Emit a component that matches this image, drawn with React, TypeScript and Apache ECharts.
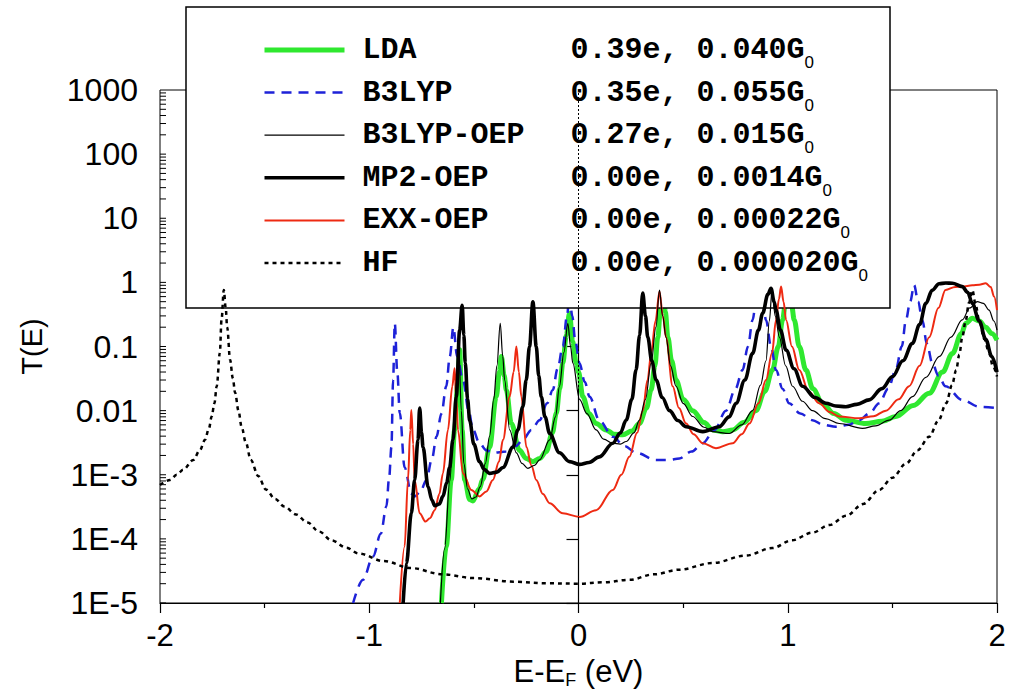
import React, { useEffect, useRef } from "react";
import * as echarts from "echarts";

type Pt = [number, number];

const seriesNames = ["LDA", "B3LYP", "B3LYP-OEP", "MP2-OEP", "EXX-OEP", "HF"];
const chargeLabels = ["0.39e", "0.35e", "0.27e", "0.00e", "0.00e", "0.00e"];
const conductanceLabels = ["0.040", "0.055", "0.015", "0.0014", "0.00022", "0.000020"];
const xTicks = [-2, -1, 0, 1, 2];
const yTickLabels = ["1E-5", "1E-4", "1E-3", "0.01", "0.1", "1", "10", "100", "1000"];

const ldaData: Pt[] = [
  [-0.655, 1e-5], [-0.632, 7.6e-5], [-0.608, 8.3e-4], [-0.592, 5e-3], [-0.576, 0.03], [-0.568, 0.089],
  [-0.556, 5e-3], [-0.544, 8.3e-4], [-0.52, 4.1e-4], [-0.505, 3.9e-4], [-0.475, 6e-4], [-0.457, 8.5e-4],
  [-0.425, 2.7e-3], [-0.393, 0.0165], [-0.378, 0.04], [-0.369, 0.07], [-0.355, 0.035], [-0.345, 0.021],
  [-0.321, 6.3e-3], [-0.282, 2.4e-3], [-0.25, 1.8e-3], [-0.218, 1.6e-3], [-0.185, 1.8e-3], [-0.154, 2.3e-3],
  [-0.125, 4.5e-3], [-0.106, 9.1e-3], [-0.09, 0.022], [-0.075, 0.055], [-0.058, 0.15], [-0.043, 0.33],
  [-0.028, 0.12], [-0.011, 0.055], [0, 0.04], [0.021, 0.0165], [0.05, 0.009], [0.084, 6.3e-3], [0.132, 5e-3],
  [0.17, 4.3e-3], [0.212, 4.2e-3], [0.255, 4.8e-3], [0.291, 6.3e-3], [0.325, 0.011], [0.347, 0.021],
  [0.365, 0.05], [0.379, 0.14], [0.392, 0.4], [0.403, 0.86], [0.415, 0.35], [0.427, 0.14], [0.445, 0.06],
  [0.466, 0.03], [0.5, 0.015], [0.546, 0.01], [0.6, 6.5e-3], [0.641, 5e-3], [0.69, 4.7e-3], [0.737, 5e-3],
  [0.79, 6.5e-3], [0.848, 0.01], [0.89, 0.02], [0.927, 0.043], [0.955, 0.1], [0.975, 0.26], [0.99, 0.5],
  [1.004, 0.81], [1.018, 0.45], [1.031, 0.26], [1.055, 0.1], [1.087, 0.043], [1.12, 0.022], [1.166, 0.013],
  [1.22, 9e-3], [1.278, 7.1e-3], [1.373, 6.3e-3], [1.45, 6.8e-3], [1.516, 8.1e-3], [1.6, 0.012],
  [1.676, 0.0186], [1.74, 0.04], [1.787, 0.078], [1.83, 0.16], [1.851, 0.23], [1.882, 0.275], [1.915, 0.25],
  [1.946, 0.2], [1.975, 0.16], [2.0, 0.126],
];

const b3lypData: Pt[] = [
  [-1.077, 1e-5], [-1.03, 2.3e-5], [-0.982, 5.3e-5], [-0.945, 1.2e-4], [-0.918, 3.2e-4], [-0.905, 9e-4],
  [-0.894, 2.7e-3], [-0.886, 0.03], [-0.878, 0.23], [-0.866, 0.04], [-0.854, 9.1e-3], [-0.831, 1.3e-3],
  [-0.799, 5.1e-4], [-0.783, 4.6e-4], [-0.755, 5.5e-4], [-0.727, 8.3e-4], [-0.7, 1.8e-3], [-0.679, 3.9e-3],
  [-0.655, 0.009], [-0.632, 0.024], [-0.615, 0.07], [-0.598, 0.2], [-0.58, 0.07], [-0.552, 0.03],
  [-0.525, 0.01], [-0.504, 5e-3], [-0.473, 3.1e-3], [-0.44, 2.4e-3], [-0.409, 2.2e-3], [-0.345, 2.3e-3],
  [-0.3, 2.8e-3], [-0.266, 3.5e-3], [-0.225, 5e-3], [-0.186, 7.1e-3], [-0.15, 0.013], [-0.123, 0.021],
  [-0.1, 0.045], [-0.075, 0.1], [-0.055, 0.3], [-0.043, 0.64], [-0.03, 0.3], [-0.015, 0.12], [0.005, 0.055],
  [0.03, 0.028], [0.053, 0.0165], [0.1, 7e-3], [0.164, 3.9e-3], [0.22, 2.8e-3], [0.275, 2.2e-3],
  [0.371, 1.7e-3], [0.43, 1.7e-3], [0.482, 1.8e-3], [0.54, 2.3e-3], [0.594, 3.1e-3], [0.65, 5e-3],
  [0.705, 0.01], [0.75, 0.022], [0.784, 0.043], [0.81, 0.1], [0.832, 0.26], [0.848, 0.5], [0.864, 0.86],
  [0.88, 0.5], [0.896, 0.26], [0.92, 0.1], [0.944, 0.043], [0.975, 0.022], [1.007, 0.013], [1.06, 9e-3],
  [1.118, 7.1e-3], [1.17, 6e-3], [1.23, 5.6e-3], [1.29, 6e-3], [1.341, 7.1e-3], [1.39, 9e-3],
  [1.437, 0.013], [1.48, 0.022], [1.516, 0.043], [1.545, 0.1], [1.565, 0.26], [1.585, 0.5], [1.604, 0.91],
  [1.623, 0.5], [1.643, 0.26], [1.665, 0.11], [1.691, 0.055], [1.72, 0.035], [1.754, 0.024],
  [1.834, 0.0147], [1.914, 0.0115], [2.0, 0.011],
];

const b3lypOepData: Pt[] = [
  [-0.66, 1e-5], [-0.64, 7e-5], [-0.615, 8e-4], [-0.598, 5e-3], [-0.582, 0.03], [-0.572, 0.1],
  [-0.56, 0.01], [-0.548, 1.5e-3], [-0.53, 6e-4], [-0.51, 4.2e-4], [-0.49, 4.5e-4], [-0.47, 6.5e-4],
  [-0.445, 1.5e-3], [-0.425, 4e-3], [-0.405, 0.015], [-0.39, 0.05], [-0.374, 0.23], [-0.362, 0.07],
  [-0.353, 0.03], [-0.329, 5e-3], [-0.297, 2.2e-3], [-0.27, 1.5e-3], [-0.242, 1.26e-3], [-0.21, 1.4e-3],
  [-0.186, 1.7e-3], [-0.138, 3.5e-3], [-0.11, 8e-3], [-0.091, 0.024], [-0.07, 0.08], [-0.051, 0.23],
  [-0.038, 0.1], [-0.027, 0.055], [0.005, 0.015], [0.04, 9e-3], [0.084, 5e-3], [0.12, 3.6e-3],
  [0.164, 3.1e-3], [0.2, 3e-3], [0.228, 3.3e-3], [0.265, 4.5e-3], [0.291, 7.1e-3], [0.32, 0.015],
  [0.347, 0.055], [0.37, 0.2], [0.387, 0.76], [0.402, 0.3], [0.418, 0.14], [0.44, 0.05], [0.466, 0.024],
  [0.5, 0.013], [0.546, 8.1e-3], [0.6, 5.5e-3], [0.641, 4.7e-3], [0.721, 4.4e-3], [0.78, 6e-3],
  [0.832, 0.01], [0.87, 0.025], [0.896, 0.06], [0.912, 0.25], [0.925, 0.76], [0.94, 0.3], [0.96, 0.14],
  [0.99, 0.05], [1.023, 0.024], [1.07, 0.014], [1.118, 0.01], [1.18, 7.5e-3], [1.246, 6.3e-3],
  [1.357, 5.3e-3], [1.42, 5.8e-3], [1.485, 7.1e-3], [1.54, 0.01], [1.596, 0.0165], [1.66, 0.033],
  [1.725, 0.07], [1.78, 0.14], [1.834, 0.26], [1.87, 0.4], [1.906, 0.5], [1.935, 0.47], [1.962, 0.37],
  [1.985, 0.25], [2.0, 0.18],
];

const mp2OepData: Pt[] = [
  [-0.838, 1e-5], [-0.822, 4.2e-5], [-0.799, 2.5e-4], [-0.783, 8.3e-4], [-0.767, 3.5e-3], [-0.759, 0.011],
  [-0.75, 4.5e-3], [-0.743, 2.7e-3], [-0.719, 6.5e-4], [-0.7, 4e-4], [-0.687, 3.3e-4], [-0.665, 3.5e-4],
  [-0.648, 4.6e-4], [-0.63, 7.5e-4], [-0.616, 1.3e-3], [-0.6, 3.5e-3], [-0.584, 0.0165], [-0.568, 0.18],
  [-0.556, 0.44], [-0.548, 0.15], [-0.541, 0.055], [-0.53, 0.015], [-0.52, 7e-3], [-0.5, 3e-3],
  [-0.473, 1.6e-3], [-0.45, 1.2e-3], [-0.425, 1.05e-3], [-0.39, 1.1e-3], [-0.361, 1.3e-3],
  [-0.313, 2.7e-3], [-0.29, 5e-3], [-0.266, 0.0115], [-0.25, 0.03], [-0.234, 0.1], [-0.218, 0.5],
  [-0.202, 0.1], [-0.19, 0.035], [-0.178, 0.0165], [-0.16, 8e-3], [-0.138, 4.4e-3], [-0.091, 2.2e-3],
  [-0.043, 1.6e-3], [0.005, 1.45e-3], [0.05, 1.55e-3], [0.1, 1.9e-3], [0.164, 3.1e-3], [0.2, 4.5e-3],
  [0.228, 7.1e-3], [0.255, 0.015], [0.275, 0.043], [0.292, 0.15], [0.307, 0.68], [0.32, 0.3],
  [0.331, 0.14], [0.35, 0.06], [0.371, 0.03], [0.4, 0.016], [0.435, 0.01], [0.475, 7e-3], [0.514, 5.6e-3],
  [0.594, 4.7e-3], [0.673, 5.6e-3], [0.72, 8e-3], [0.753, 0.013], [0.795, 0.03], [0.832, 0.078],
  [0.86, 0.18], [0.88, 0.33], [0.905, 0.65], [0.92, 0.81], [0.935, 0.5], [0.944, 0.37], [0.965, 0.18],
  [0.992, 0.088], [1.03, 0.045], [1.071, 0.024], [1.13, 0.016], [1.182, 0.013], [1.23, 0.0118],
  [1.278, 0.0115], [1.33, 0.0125], [1.389, 0.0147], [1.45, 0.022], [1.501, 0.034], [1.55, 0.06],
  [1.596, 0.112], [1.63, 0.22], [1.66, 0.47], [1.69, 0.75], [1.723, 0.95], [1.755, 0.98], [1.787, 0.97],
  [1.834, 0.86], [1.86, 0.7], [1.882, 0.47], [1.915, 0.25], [1.946, 0.13], [1.975, 0.07], [2.0, 0.04],
];

const exxOepData: Pt[] = [
  [-0.854, 1e-5], [-0.831, 7.6e-5], [-0.815, 8.3e-4], [-0.804, 5e-3], [-0.799, 0.0102], [-0.79, 3e-3],
  [-0.783, 8.3e-4], [-0.759, 2.5e-4], [-0.731, 1.86e-4], [-0.71, 2.1e-4], [-0.687, 2.8e-4], [-0.665, 5e-4],
  [-0.648, 1.05e-3], [-0.624, 5e-3], [-0.603, 0.024], [-0.592, 0.046], [-0.584, 0.015], [-0.576, 5e-3],
  [-0.552, 1.05e-3], [-0.512, 5.8e-4], [-0.473, 4.6e-4], [-0.44, 5.5e-4], [-0.409, 8.3e-4],
  [-0.38, 1.6e-3], [-0.361, 3.5e-3], [-0.329, 0.0165], [-0.31, 0.04], [-0.297, 0.1], [-0.285, 0.04],
  [-0.273, 0.0165], [-0.249, 2.7e-3], [-0.225, 1.4e-3], [-0.202, 8.3e-4], [-0.17, 5e-4], [-0.138, 3.6e-4],
  [-0.075, 2.5e-4], [0.005, 2.2e-4], [0.084, 2.8e-4], [0.164, 5.8e-4], [0.205, 1e-3], [0.243, 1.9e-3],
  [0.28, 4.5e-3], [0.307, 0.01], [0.33, 0.03], [0.347, 0.078], [0.368, 0.25], [0.387, 0.72], [0.403, 0.3],
  [0.418, 0.14], [0.45, 0.024], [0.48, 0.011], [0.514, 6.3e-3], [0.55, 4.3e-3], [0.594, 3.1e-3],
  [0.657, 2.6e-3], [0.737, 3.1e-3], [0.78, 4.3e-3], [0.817, 6.3e-3], [0.86, 0.013], [0.896, 0.03],
  [0.925, 0.08], [0.944, 0.26], [0.958, 0.55], [0.968, 0.86], [0.98, 0.5], [0.992, 0.26], [1.02, 0.1],
  [1.055, 0.043], [1.1, 0.02], [1.15, 0.013], [1.2, 9.5e-3], [1.246, 8.1e-3], [1.341, 7.6e-3],
  [1.41, 8.2e-3], [1.469, 0.01], [1.53, 0.015], [1.58, 0.024], [1.63, 0.05], [1.676, 0.14], [1.72, 0.4],
  [1.754, 0.76], [1.8, 0.85], [1.834, 0.86], [1.882, 0.9], [1.915, 0.92], [1.946, 0.97], [1.97, 0.85],
  [1.986, 0.6], [2.0, 0.37],
];

const hfData: Pt[] = [
  [-2.0, 6.9e-4], [-1.952, 8.3e-4], [-1.92, 1e-3], [-1.889, 1.2e-3], [-1.841, 1.7e-3], [-1.81, 2.4e-3],
  [-1.785, 3.5e-3], [-1.766, 5.3e-3], [-1.753, 8.1e-3], [-1.74, 0.013], [-1.729, 0.024], [-1.714, 0.079],
  [-1.706, 0.26], [-1.695, 0.76], [-1.686, 0.4], [-1.679, 0.2], [-1.665, 0.062], [-1.652, 0.032],
  [-1.641, 0.019], [-1.625, 0.01], [-1.61, 5.6e-3], [-1.59, 3.2e-3], [-1.566, 1.7e-3], [-1.53, 9.5e-4],
  [-1.494, 5.9e-4], [-1.45, 4.2e-4], [-1.406, 3.2e-4], [-1.35, 2.4e-4], [-1.295, 1.8e-4], [-1.24, 1.3e-4],
  [-1.18, 9.5e-5], [-1.11, 7.3e-5], [-1.05, 5.9e-5], [-0.93, 4.5e-5], [-0.8, 3.5e-5], [-0.65, 2.8e-5],
  [-0.5, 2.45e-5], [-0.31, 2.15e-5], [-0.15, 2.03e-5], [0, 2e-5], [0.12, 2.1e-5], [0.244, 2.3e-5],
  [0.36, 2.8e-5], [0.48, 3.3e-5], [0.64, 4.2e-5], [0.8, 5.5e-5], [0.926, 7.2e-5], [1.02, 9.5e-5],
  [1.117, 1.25e-4], [1.2, 1.65e-4], [1.28, 2.3e-4], [1.36, 3.5e-4], [1.437, 5.8e-4], [1.5, 9e-4],
  [1.566, 1.5e-3], [1.62, 2.4e-3], [1.676, 3.9e-3], [1.72, 7e-3], [1.757, 0.013], [1.785, 0.025],
  [1.805, 0.043], [1.82, 0.075], [1.834, 0.14], [1.85, 0.25], [1.866, 0.48], [1.882, 0.76], [1.898, 0.45],
  [1.914, 0.26], [1.94, 0.13], [1.962, 0.08], [1.98, 0.05], [2.0, 0.034],
];

const seriesData: Pt[][] = [ldaData, b3lypData, b3lypOepData, mp2OepData, exxOepData, hfData];

const styles = [
  { color: "#2fe82f", width: 5, type: "solid" as any, z: 2 },
  { color: "#1e22d8", width: 2.5, type: [10, 7] as any, z: 3 },
  { color: "#000000", width: 1.2, type: "solid" as any, z: 6 },
  { color: "#000000", width: 3.6, type: "solid" as any, z: 7 },
  { color: "#ee2a12", width: 2, type: "solid" as any, z: 4 },
  { color: "#000000", width: 2.5, type: [4, 4] as any, z: 5 },
];

// tick positions of the log axis (1..9 x 10^k), drawn inside the left axis
const minorTickValues: number[] = [];
for (let e = -5; e < 3; e++) {
  for (let m = 1; m <= 9; m++) minorTickValues.push(m * Math.pow(10, e));
}

const FONT = "'Liberation Sans', Arial, Helvetica, sans-serif";
const MONO = "'Liberation Mono', 'Courier New', monospace";

export default function App() {
  const ref = useRef<HTMLDivElement>(null);
  useEffect(() => {
    if (!ref.current) return;
    const chart = echarts.init(ref.current, undefined, { renderer: "svg" });
    const lineSeries = seriesNames.map((name, i) => ({
      name,
      type: "line",
      data: seriesData[i],
      symbol: "none",
      showSymbol: false,
      smooth: 0.35,
      smoothMonotone: "x",
      z: styles[i].z,
      color: styles[i].color,
      lineStyle: { color: styles[i].color, width: styles[i].width, type: styles[i].type },
      emphasis: { disabled: true },
      markLine:
        name === "HF"
          ? {
              silent: true,
              symbol: "none",
              label: { show: false },
              lineStyle: { color: "#000", type: [2, 2], width: 1 },
              data: [{ xAxis: 0 }],
            }
          : undefined,
    }));
    const option: any = {
      animation: false,
      backgroundColor: "#fff",
      grid: {
        left: 160,
        right: 15,
        top: 90,
        bottom: 90,
        containLabel: false,
        outerBoundsMode: "none",
        show: true,
        borderColor: "#000",
        borderWidth: 1,
        backgroundColor: "transparent",
      },
      xAxis: {
        type: "value",
        min: xTicks[0],
        max: xTicks[xTicks.length - 1],
        interval: 1,
        axisLine: { lineStyle: { color: "#000", width: 1.2 } },
        axisTick: { length: 10, lineStyle: { color: "#000", width: 1.2 } },
        minorTick: { show: true, splitNumber: 2, length: 5, lineStyle: { color: "#000", width: 1.2 } },
        splitLine: { show: false },
        axisLabel: { fontSize: 31, fontFamily: FONT, color: "#000", margin: 17 },
        name: "{m|E-E}{s|F}{m| (eV)}",
        nameLocation: "middle",
        nameGap: 47,
        nameTextStyle: {
          rich: {
            m: { fontSize: 31, fontFamily: FONT, color: "#000", lineHeight: 30 },
            s: { fontSize: 18, fontFamily: FONT, color: "#000", verticalAlign: "bottom", lineHeight: 16, padding: [0, 0, -3, 0] },
          },
        },
      },
      yAxis: {
        type: "log",
        logBase: 10,
        min: 1e-5,
        max: 1000,
        interval: 1,
        axisLine: { show: true, lineStyle: { color: "#000", width: 1.2 } },
        axisTick: { show: true, length: 12, lineStyle: { color: "#000", width: 1.2 } },
        splitLine: { show: false },
        axisLabel: {
          fontSize: 32,
          fontFamily: FONT,
          color: "#000",
          margin: 22,
          formatter: (v: number) => yTickLabels[Math.round(Math.log10(v)) + 5] ?? "",
        },
        name: "T(E)",
        nameLocation: "middle",
        nameGap: 114,
        nameTextStyle: { fontSize: 29, fontFamily: FONT, color: "#000" },
      },
      legend: {
        data: seriesNames.map((name, i) => ({
          name,
          lineStyle: { width: styles[i].width, color: styles[i].color, type: styles[i].type },
        })),
        orient: "vertical",
        left: 186,
        top: 7,
        padding: [28, 22, 24, 76],
        itemWidth: 80,
        itemHeight: 14,
        itemGap: 6.6,
        backgroundColor: "#fff",
        borderColor: "#000",
        borderWidth: 1.5,
        selectedMode: false,
        itemStyle: { opacity: 0, borderWidth: 0 },
        formatter: (name: string) => {
          const i = seriesNames.indexOf(name);
          return `{n|${name}}{v|${chargeLabels[i]}, ${conductanceLabels[i]}G}{s|0}`;
        },
        textStyle: {
          color: "#000",
          rich: {
            n: { fontFamily: MONO, fontWeight: "bold", fontSize: 30, color: "#000", width: 208, lineHeight: 30, padding: [0, 0, 0, 13] },
            v: { fontFamily: MONO, fontWeight: "bold", fontSize: 30, color: "#000", lineHeight: 30 },
            s: { fontFamily: FONT, fontSize: 17, color: "#000", verticalAlign: "bottom", lineHeight: 18, padding: [0, 0, -6, 0] },
          },
        },
      },
      series: [
        ...lineSeries,
        {
          type: "custom",
          name: "ticks",
          silent: true,
          clip: false,
          z: 8,
          data: minorTickValues.map((v) => [xTicks[0], v]),
          renderItem: (_p: any, api: any) => {
            const c = api.coord([api.value(0), api.value(1)]);
            return {
              type: "line",
              shape: { x1: c[0], y1: c[1], x2: c[0] + 6, y2: c[1] },
              style: { stroke: "#000", lineWidth: 1 },
            };
          },
        },
      ],
    };
    chart.setOption(option);
    return () => chart.dispose();
  }, []);
  return <div ref={ref} style={{ position: "absolute", left: 0, top: 0, width: 1012, height: 693 }} />;
}
